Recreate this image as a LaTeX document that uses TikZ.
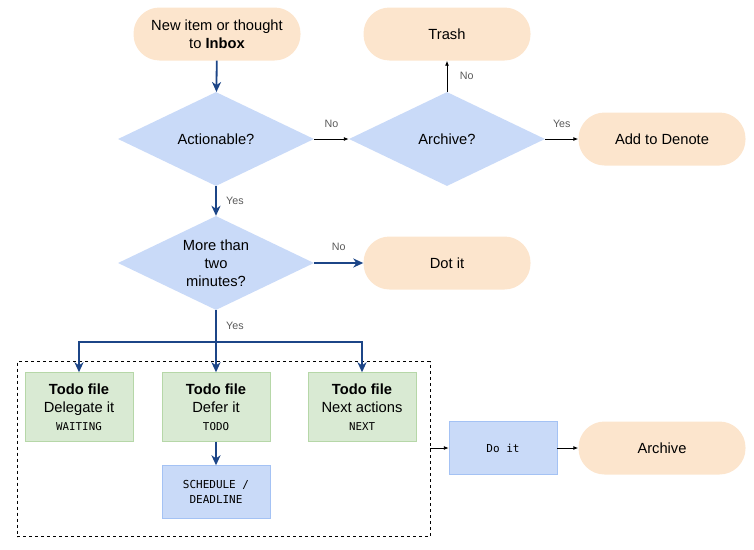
\documentclass[tikz,border=0pt]{standalone}
\usepackage{fontspec}
\setmainfont{Liberation Sans}
\newfontfamily\codefont{DejaVu Sans Mono}
\usepackage{tikz}
\usetikzlibrary{shapes.geometric,arrows.meta,positioning}

\definecolor{peach}{HTML}{FCE5CD}
\definecolor{askblue}{HTML}{C9DAF8}
\definecolor{edgeblue}{HTML}{A4C2F4}
\definecolor{todogreen}{HTML}{D9EAD3}
\definecolor{edgegreen}{HTML}{B6D7A8}
\definecolor{flowblue}{HTML}{1C4587}
\definecolor{lblgray}{HTML}{595959}

\begin{document}
\begin{tikzpicture}[x=1pt,y=-1pt,
 font=\fontsize{14.7}{18}\selectfont,
 pill/.style={fill=peach, rounded corners=26pt, minimum width=167pt, minimum height=53pt, align=center},
 ask/.style={diamond, fill=askblue, aspect=2.08, inner sep=0pt, minimum width=196pt, minimum height=94pt, align=center},
 todo/.style={rectangle, fill=todogreen, draw=edgegreen, minimum width=108pt, minimum height=69pt, align=center},
 codebox/.style={rectangle, fill=askblue, draw=edgeblue, minimum width=108pt, minimum height=53pt, align=center, font=\codefont\fontsize{11}{15}\selectfont},
 flow/.style={draw=flowblue, line width=1.8pt, -{Stealth[length=10pt,width=9pt,inset=3pt]}},
 blackarrow/.style={draw=black, line width=0.9pt, -{Latex[length=5pt,width=4pt]}},
 lbl/.style={font=\fontsize{10.7}{12}\selectfont, text=lblgray}]
\useasboundingbox (0,0) rectangle (754,549);

\node[pill] (inbox) at (217,34) {New item or thought\\to \textbf{Inbox}};
\node[pill] (trash) at (447,34) {Trash};
\node[ask] (act) at (216,139) {Actionable?};
\node[ask] (arch) at (447,139) {Archive?};
\node[pill] (denote) at (662,139) {Add to Denote};
\node[ask] (more) at (216,263) {More than\\two\\minutes?};
\node[pill] (dot) at (447,263) {Dot it};

\draw[flow] (inbox) -- (act);
\draw[blackarrow] (act) -- node[lbl, above=8pt]{No} (arch);
\draw[blackarrow] (arch) -- node[lbl, right=9pt]{No} (trash);
\draw[blackarrow] (arch) -- node[lbl, above=8pt]{Yes} (denote);
\draw[flow] (act) -- node[lbl, right=6pt]{Yes} (more);
\draw[flow] (more) -- node[lbl, above=8pt]{No} (dot);

\node[draw, dashed, dash pattern=on 3pt off 3pt, line width=0.8pt, minimum width=413pt, minimum height=175pt] (grp) at (223.5,449) {};
\foreach \name/\x/\what/\tag in {dele/79/Delegate it/WAITING, defer/216/Defer it/TODO, next/362/Next actions/NEXT}{
 \node[todo] (\name) at (\x,407) {\textbf{Todo file}\\\what\\{\codefont\fontsize{10.8}{13}\selectfont \tag}};
 }
\node[codebox] (sched) at (216,492) {SCHEDULE /\\DEADLINE};
\node[codebox] (doit) at (503,448) {Do it};
\node[pill] (archive) at (662,448) {Archive};

\draw[draw=flowblue, line width=1.8pt] (more.south) -- node[lbl, right=6pt]{Yes} ++(0,32) coordinate (br);
\draw[flow] (br) -| (dele.north);
\draw[flow] (br) -- (defer.north);
\draw[flow] (br) -| (next.north);
\draw[flow] (defer) -- (sched);
\draw[blackarrow] (grp.east |- doit) -- (doit);
\draw[blackarrow] (doit) -- (archive);
\end{tikzpicture}
\end{document}
